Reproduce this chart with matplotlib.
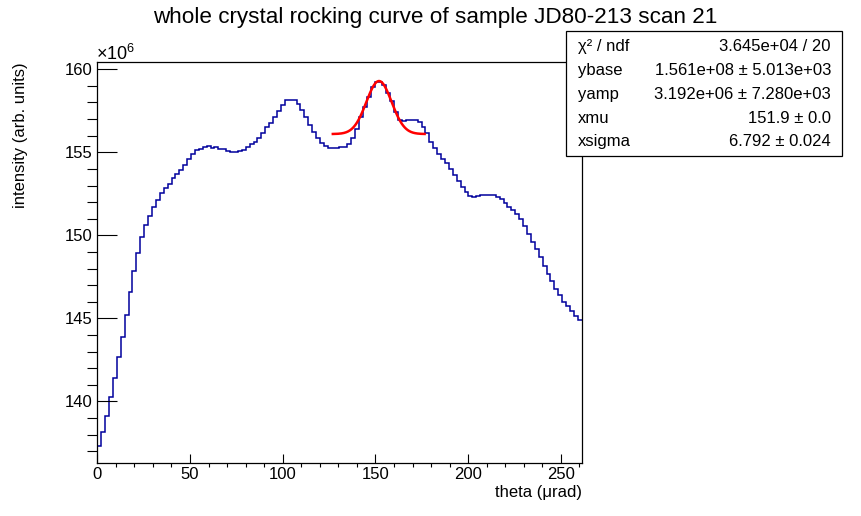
import numpy as np
import matplotlib
matplotlib.use("Agg")
import matplotlib.pyplot as plt
from matplotlib.patches import Rectangle
from matplotlib.ticker import MultipleLocator

plt.rcParams['font.family'] = ['Liberation Sans', 'DejaVu Sans']
plt.rcParams['mathtext.fontset'] = 'custom'
plt.rcParams['mathtext.rm'] = 'Liberation Sans'
plt.rcParams['mathtext.it'] = 'Liberation Sans:italic'

# histogram contents, units of 1e6
theta_max = 261.2
intensity_e6 = [
    137.31, 138.13, 139.10, 140.24, 141.39, 142.65, 143.86, 145.20, 146.57, 147.83,
    148.92, 149.88, 150.60, 151.14, 151.69, 152.11, 152.53, 152.83, 153.07, 153.43,
    153.67, 153.92, 154.23, 154.58, 154.88, 155.14, 155.18, 155.30, 155.36, 155.24,
    155.30, 155.22, 155.18, 155.08, 155.02, 155.02, 155.08, 155.12, 155.30, 155.48,
    155.64, 155.88, 156.18, 156.50, 156.75, 157.11, 157.51, 157.85, 158.13, 158.17,
    158.13, 157.89, 157.53, 157.11, 156.64, 156.24, 155.86, 155.58, 155.36, 155.24,
    155.24, 155.24, 155.30, 155.34, 155.48, 155.84, 156.39, 157.11, 157.71, 158.35,
    158.95, 159.22, 159.25, 159.04, 158.55, 158.07, 157.45, 156.97, 156.89, 156.92,
    156.93, 156.93, 156.80, 156.52, 156.14, 155.65, 155.24, 154.90, 154.58, 154.34,
    153.99, 153.62, 153.28, 152.93, 152.59, 152.39, 152.31, 152.35, 152.41, 152.45,
    152.45, 152.41, 152.33, 152.19, 151.96, 151.70, 151.52, 151.28, 150.98, 150.56,
    150.08, 149.58, 149.16, 148.67, 148.13, 147.67, 147.23, 146.77, 146.39, 145.98,
    145.72, 145.46, 145.14, 144.90,
]

# gaussian fit result (from the stats box)
ybase = 156.1
yamp = 3.192
xmu = 151.9
xsigma = 6.792
fit_range = (127.0, 176.5)

stat_names = ["χ² / ndf", "ybase", "yamp", "xmu", "xsigma"]
stat_values = ["3.645e+04 / 20", "1.561e+08 ± 5.013e+03", "3.192e+06 ± 7.280e+03",
               "151.9 ± 0.0", "6.792 ± 0.024"]

W, H = 862, 516
fig = plt.figure(figsize=(W / 100, H / 100), dpi=100)
ax = fig.add_axes([97.3 / W, 1 - 463.3 / H, (581.7 - 97.3) / W, (463.3 - 62.3) / H])

edges = np.linspace(0, theta_max, len(intensity_e6) + 1)
ax.stairs(intensity_e6, edges, color='#00009c', lw=1.1, baseline=None)

xf = np.linspace(fit_range[0], fit_range[1], 300)
yf = ybase + yamp * np.exp(-0.5 * ((xf - xmu) / xsigma) ** 2)
ax.plot(xf, yf, color='#ff0000', lw=1.8)

ax.set_xlim(0, theta_max)
ax.set_ylim(136.27, 160.42)

ax.xaxis.set_major_locator(MultipleLocator(50))
ax.xaxis.set_minor_locator(MultipleLocator(10))
ax.yaxis.set_major_locator(MultipleLocator(5))
ax.yaxis.set_minor_locator(MultipleLocator(1))
ax.tick_params(direction='in', width=0.8, labelsize=12, colors='black')
ax.tick_params(axis='y', which='major', length=14.4, pad=3.5)
ax.tick_params(axis='y', which='minor', length=7.2, width=0.8)
ax.tick_params(axis='x', which='major', length=6.5, pad=3)
ax.tick_params(axis='x', which='minor', length=3.2, width=0.8)
for s in ax.spines.values():
    s.set_linewidth(0.9)

fig.text(96 / W, 1 - 54 / H, r"$\mathregular{\times 10^{6}}$", fontsize=13, ha='left', va='center')

fig.text(0.5052, 1 - 18 / H, "whole crystal rocking curve of sample JD80-213 scan 21",
         fontsize=16.2, ha='center', va='center')
fig.text(20.5 / W, 1 - 62 / H, "intensity (arb. units)", rotation=90, fontsize=12,
         ha='center', va='top')
fig.text(582 / W, 1 - 492 / H, "theta (μrad)", fontsize=12, ha='right', va='center')

# stats box
fig.patches.append(Rectangle((566 / W, 1 - 156 / H), 276 / W, 125 / H, transform=fig.transFigure,
                             facecolor='white', edgecolor='black', lw=0.9, zorder=5))
for i, (name, val) in enumerate(zip(stat_names, stat_values)):
    yy = 1 - (47 + 23.7 * i) / H
    fig.text(578 / W, yy, name, fontsize=12, ha='left', va='center', zorder=6)
    fig.text(831 / W, yy, val, fontsize=12, ha='right', va='center', zorder=6)

fig.savefig("out.png", dpi=100)
